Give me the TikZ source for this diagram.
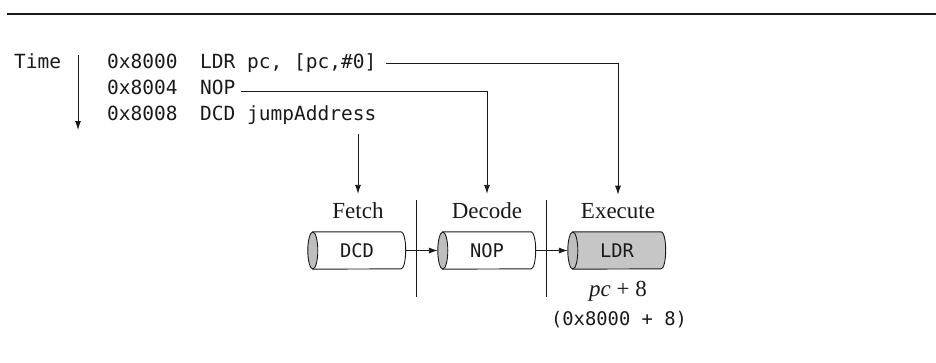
\documentclass[tikz,border=0pt]{standalone}
\usepackage{fontspec}
\setmainfont{Liberation Serif}
\newfontfamily\codefont{DejaVu Sans Mono}
\usetikzlibrary{arrows.meta}
\definecolor{capgray}{HTML}{BEBEBE}
\definecolor{bodygray}{HTML}{C6C6C6}
\definecolor{ink}{HTML}{1A1A1A}
\begin{document}
\begin{tikzpicture}[x=1pt,y=-1pt,
  code/.style={font=\codefont\fontsize{19.5}{21}\selectfont,text=ink,inner sep=0pt,anchor=base west},
  stage/.style={font=\fontsize{23}{25}\selectfont,text=ink,inner sep=0pt,anchor=base},
  cyl/.style={font=\codefont\fontsize{18.8}{20}\selectfont,text=ink,inner sep=0pt,minimum width=88pt,minimum height=37pt},
  arr/.style={draw=ink,line width=0.9pt,-{Latex[length=9pt,width=6pt]}},
  ln/.style={draw=ink,line width=1pt}]
\useasboundingbox (0,0) rectangle (936,362);
\draw[ink,line width=1.2pt] (7,14) -- (936,14);
% time axis
\node[code] (time) at (14,68) {Time};
\coordinate (ttop) at (78,55);
\coordinate (tbot) at (78,130);
\draw[arr] (ttop) -- (tbot);
% code lines
\node[code] (a1) at (107,68) {0x8000};
\node[code] (i1) at (200,68) {LDR pc, [pc,\#0]};
\node[code] (a2) at (107,94) {0x8004};
\node[code] (i2) at (200,94) {NOP};
\node[code] (a3) at (107,120) {0x8008};
\node[code] (i3) at (200,120) {DCD jumpAddress};
% stage labels
\node[stage] (fetch) at (358,218) {Fetch};
\node[stage] (decode) at (487,218) {Decode};
\node[stage] (exec) at (618,218) {Execute};
% cylinders
\node[cyl] (dcd) at (357,250.5) {};
\node[cyl] (nop) at (487,250.5) {};
\node[cyl] (ldr) at (617,250.5) {};
\foreach \c/\f in {dcd/white,nop/white,ldr/bodygray}{
  \filldraw[draw=ink,fill=\f,line width=0.9pt] (\c.north west) -- (\c.north east)
     arc[start angle=90,end angle=-90,x radius=4.5pt,y radius=18.5pt] -- (\c.south west) -- cycle;
  \filldraw[draw=ink,fill=capgray,line width=0.9pt] (\c.west) ellipse[x radius=5pt,y radius=18.5pt];
}
\node[cyl] at (dcd) {DCD};
\node[cyl] at (nop) {NOP};
\node[cyl] at (ldr) {LDR};
% dividers
\draw[ln] (416,200) -- (416,297);
\draw[ln] (546,200) -- (546,297);
% connectors
\coordinate (s1) at (386,63);
\coordinate (s2) at (241,91);
\coordinate (s3) at (358,134);
\draw[arr] (s1) -| ([yshift=8pt]exec.north);
\draw[arr] (s2) -| ([yshift=8pt]decode.north);
\draw[arr] (s3) -- ([yshift=8pt]fetch.north);
\draw[arr] ([xshift=4.5pt]dcd.east) -- ([xshift=-5pt]nop.west);
\draw[arr] ([xshift=4.5pt]nop.east) -- ([xshift=-5pt]ldr.west);
% result
\node[stage] (pc) at (618,296) {\textit{pc} + 8};
\node[cyl,anchor=base,minimum width=0pt,minimum height=0pt] (addr) at (619,325) {(0x8000 + 8)};
\end{tikzpicture}
\end{document}
